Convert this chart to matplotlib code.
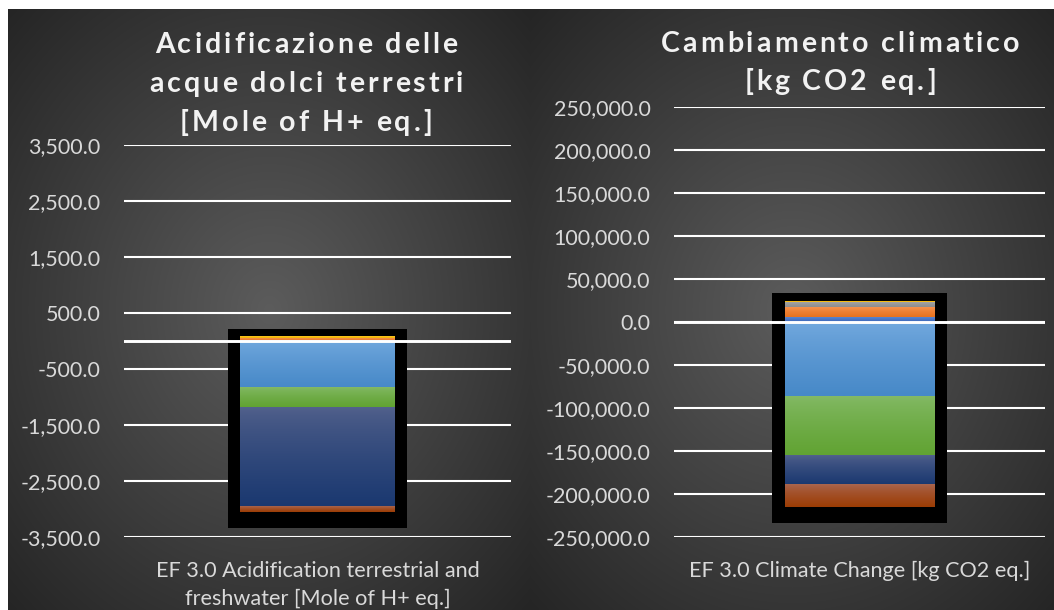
import numpy as np
import matplotlib
matplotlib.use("Agg")
import matplotlib.pyplot as plt
from matplotlib.patches import Rectangle
from matplotlib.font_manager import FontProperties
from matplotlib.ticker import FuncFormatter
from matplotlib.colors import to_rgb

# ---------------------------------------------------------------- data
series_names = ["S1", "S2", "S3", "S4", "S5", "S6", "S7", "S8"]

acid_values = [5.0, 40.0, 8.0, 18.0, -840.0, -340.0, -1785.0, -95.0]
climate_values = [5800.0, 11600.0, 6400.0, 600.0, -86000.0, -69500.0, -34000.0, -25600.0]

acid_title = ["Acidificazione delle", "acque dolci terrestri", "[Mole of H+ eq.]"]
climate_title = ["Cambiamento climatico", "[kg CO2 eq.]"]

acid_category = "EF 3.0 Acidification terrestrial and\nfreshwater [Mole of H+ eq.]"
climate_category = "EF 3.0 Climate Change [kg CO2 eq.]"

acid_ticks = [-3500, -2500, -1500, -500, 500, 1500, 2500, 3500]
climate_ticks = [-250000, -200000, -150000, -100000, -50000, 0,
                 50000, 100000, 150000, 200000, 250000]

# gradient fills per series (top colour, bottom colour)
series_colors = [
    ("#5b86d2", "#3e69b9"),
    ("#f7934f", "#e8721f"),
    ("#ababab", "#8e8e8e"),
    ("#ffc72a", "#f0b400"),
    ("#74aadf", "#4789c8"),
    ("#84ba66", "#61a332"),
    ("#52618c", "#1a3870"),
    ("#aa6650", "#9c3d05"),
]

W, H = 1054, 610
FONT = "Lato"
TEXT_COLOR = "#d9d9d9"
TITLE_COLOR = "#f2f2f2"

fig = plt.figure(figsize=(W / 100, H / 100), dpi=100)
fig.patch.set_facecolor("white")

# ---------------------------------------------------------------- background
bg = fig.add_axes([0, 0, 1, 1], zorder=-10)
bg.set_axis_off()
yy, xx = np.mgrid[0:H, 0:W].astype(float)
img = np.ones((H, W, 3))
c_in, c_out = 0.36, 0.145


def radial(x0, x1, y0, y1):
    cx, cy = (x0 + x1) / 2, (y0 + y1) / 2
    d = np.sqrt(((xx - cx) / ((x1 - x0) / 2)) ** 2 + ((yy - cy) / ((y1 - y0) / 2)) ** 2) / np.sqrt(2)
    return c_in + (c_out - c_in) * np.clip(d, 0, 1)


left_bg = radial(8, 530, 9, H)
right_bg = radial(530, W, 9, H)
val = np.where(xx < 530, left_bg, right_bg)
mask = (xx >= 8) & (yy >= 9)
for k in range(3):
    img[..., k] = np.where(mask, val, 1.0)
bg.imshow(img, extent=(0, W, H, 0), aspect="auto", interpolation="bilinear")
bg.set_xlim(0, W)
bg.set_ylim(H, 0)


# ---------------------------------------------------------------- helpers
def gradient(c_top, c_bot, n=64, gamma=0.75):
    t = np.linspace(0, 1, n) ** gamma
    a, b = np.array(to_rgb(c_top)), np.array(to_rgb(c_bot))
    return (a[None, :] * (1 - t[:, None]) + b[None, :] * t[:, None])[:, None, :]


def px_rect(left, right, bottom, top):
    return [left / W, (H - bottom) / H, (right - left) / W, (bottom - top) / H]


def stacked_panel(ax, values, ticks, ylim, category, width):
    ax.set_facecolor("none")
    for s in ax.spines.values():
        s.set_visible(False)
    ax.set_xlim(-0.5, 0.5)
    ax.set_ylim(*ylim)
    ax.set_yticks(ticks)
    ax.yaxis.set_major_formatter(FuncFormatter(lambda v, p: f"{v:,.1f}"))
    ax.tick_params(axis="y", length=0, pad=17, labelsize=15.5, labelcolor=TEXT_COLOR)
    for lab in ax.get_yticklabels():
        lab.set_fontfamily(FONT)
    ax.grid(axis="y", color="white", lw=1.5, zorder=0)
    ax.set_axisbelow(True)
    ax.set_xticks([0])
    ax.set_xticklabels([category], fontsize=15.6, color=TEXT_COLOR,
                       family=FONT, linespacing=1.5)
    ax.tick_params(axis="x", length=0, pad=17)

    # stack positives upward, negatives downward
    pos, neg = 0.0, 0.0
    segs = []
    for v, cols in zip(values, series_colors):
        if v >= 0:
            lo, hi = pos, pos + v
            pos += v
        else:
            lo, hi = neg + v, neg
            neg += v
        segs.append((lo, hi, cols))

    x0, x1 = -width / 2, width / 2
    # black frame around the whole stack
    tr = ax.transData
    (pl, pt) = tr.transform((x0, pos))
    (pr, pb) = tr.transform((x1, neg))
    inv = tr.inverted()
    fl, ft = inv.transform((pl - 12.5, pt + 8))
    fr, fb = inv.transform((pr + 12.5, pb - 16))
    ax.add_patch(Rectangle((fl, fb), fr - fl, ft - fb, facecolor="black",
                           edgecolor="none", zorder=2))
    for lo, hi, (ct, cb) in segs:
        if hi - lo <= 0:
            continue
        ax.imshow(gradient(ct, cb), extent=(x0, x1, lo, hi), aspect="auto",
                  interpolation="bilinear", zorder=3)
    ax.set_xlim(-0.5, 0.5)
    ax.set_ylim(*ylim)
    ax.axhline(0, color="white", lw=2.1, zorder=5)


ax1 = fig.add_axes(px_rect(124, 511, 537, 145))
stacked_panel(ax1, acid_values, acid_ticks, (-3500, 3500), acid_category, 0.40)

ax2 = fig.add_axes(px_rect(674, 1045, 537, 107))
stacked_panel(ax2, climate_values, climate_ticks, (-250000, 250000), climate_category, 0.404)


# ---------------------------------------------------------------- titles (letter-spaced)
renderer = fig.canvas.get_renderer()
title_fp = FontProperties(family=FONT, weight="bold", size=20.5)


def text_w(s):
    return renderer.get_text_width_height_descent(s, title_fp, ismath=False)[0]


def spaced_line(text, cx, baseline, spacing=3.0):
    base = text_w("xx")
    adv = [text_w("x" + c + "x") - base for c in text]
    total = sum(adv) + spacing * (len(text) - 1)
    x = cx - total / 2
    for c, a in zip(text, adv):
        fig.text(x / W, 1 - baseline / H, c, fontproperties=title_fp,
                 color=TITLE_COLOR, ha="left", va="baseline")
        x += a + spacing


for i, line in enumerate(acid_title):
    spaced_line(line, 306, 53 + 39 * i)
for i, line in enumerate(climate_title):
    spaced_line(line, 840, 52 + 38 * i)

fig.savefig("out.png", dpi=100)
